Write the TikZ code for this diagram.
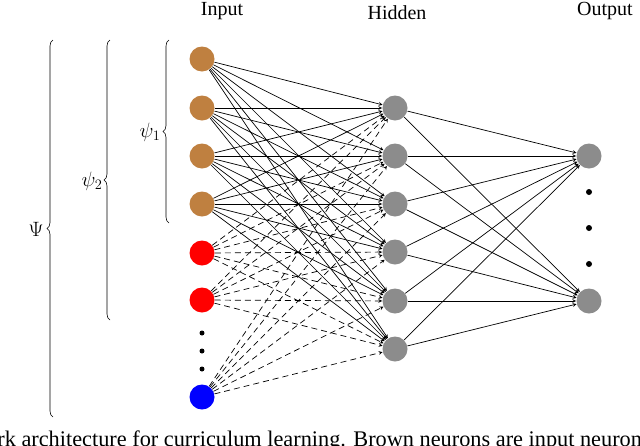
\documentclass[tikz,border=0pt]{standalone}
\usepackage{fontspec}
\setmainfont{Liberation Serif}
\usetikzlibrary{decorations.pathreplacing}
\definecolor{neurbrown}{RGB}{191,128,64}
\definecolor{neurgray}{RGB}{140,140,140}
\begin{document}
\begin{tikzpicture}[x=1pt, y=-1pt, >=stealth, line width=0.7pt,
  every node/.style={font=\fontsize{20}{22}\selectfont},
  neuron/.style={circle, minimum size=25pt, inner sep=0},
  dot/.style={circle, fill=black, minimum size=6pt, inner sep=0},
  link/.style={->, line width=0.7pt},
  dlink/.style={->, line width=0.7pt, dash pattern=on 6pt off 4pt},
  brace/.style={decorate, decoration={brace, amplitude=6pt}, line width=0.6pt}]
  \useasboundingbox (0,0) rectangle (640,445);

  % input layer
  \foreach \i/\y in {1/59, 2/108, 3/156, 4/204}
    \node[neuron, fill=neurbrown] (in\i) at (202,\y) {};
  \node[neuron, fill=red] (in5) at (202,253) {};
  \node[neuron, fill=red] (in6) at (202,300) {};
  \node[neuron, fill=blue] (in7) at (202,397) {};
  \foreach \y in {333,351,369}
    \node[dot, minimum size=5pt] at (202,\y) {};

  % hidden layer
  \foreach \i/\y in {1/108, 2/156, 3/204, 4/252, 5/301, 6/349}
    \node[neuron, fill=neurgray] (hid\i) at (395,\y) {};

  % output layer
  \node[neuron, fill=neurgray] (out1) at (589,156) {};
  \node[neuron, fill=neurgray] (out2) at (589,301) {};
  \foreach \y in {192,228,264}
    \node[dot] at (589,\y) {};

  % connections
  \foreach \i in {1,...,4}
    \foreach \j in {1,...,6}
      \draw[link] (in\i) -- (hid\j);
  \foreach \i in {5,6,7}
    \foreach \j in {1,...,6}
      \draw[dlink] (in\i) -- (hid\j);
  \foreach \j in {1,...,6}
    \foreach \k in {1,2}
      \draw[link] (hid\j) -- (out\k);

  % labels
  \node (lin) at (222,11) {Input};
  \node (lhid) at (397,13) {Hidden};
  \node (lout) at (605,11) {Output};

  % braces
  \draw[brace] (169,223) -- (169,40);
  \node (psi1) at (150,132) {$\psi_1$};
  \draw[brace] (110,320) -- (110,40);
  \node (psi2) at (92,181) {$\psi_2$};
  \draw[brace] (53,417) -- (53,40);
  \node (psi) at (36,229) {$\Psi$};

  % caption (cut off)
  \node[anchor=west, inner sep=0, font=\fontsize{22.3}{24}\selectfont] (cap) at (-3,441)
    {rk architecture for curriculum learning. Brown neurons are input neuron};
\end{tikzpicture}
\end{document}
